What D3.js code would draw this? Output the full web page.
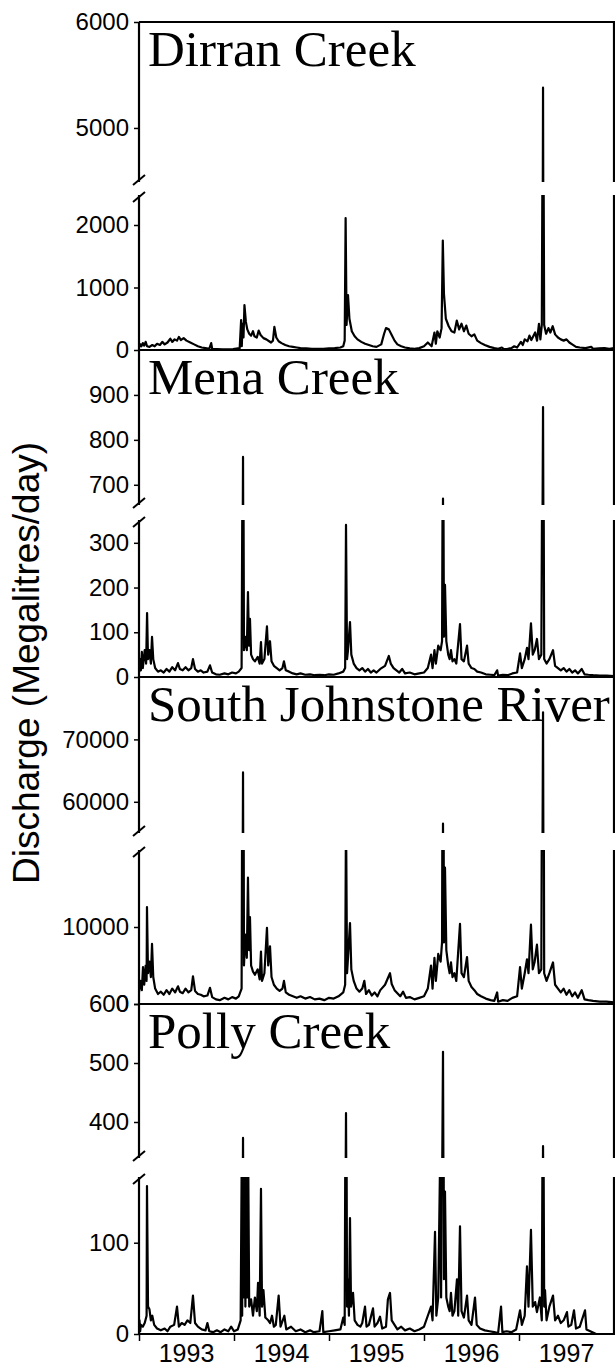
<!DOCTYPE html>
<html>
<head>
<meta charset="utf-8">
<script src="https://cdn.jsdelivr.net/npm/d3@7"></script>
<style>
  body { margin: 0; background: #fff; }
  text { fill: #000; }
</style>
</head>
<body>
<svg id="chart"></svg>
<script>
let W = 615, H = 1368

// ---- data: [decimal year, discharge ML/day] ----
const rivers = ['Dirran Creek', 'Mena Creek', 'South Johnstone River', 'Polly Creek']
const years = [1993, 1994, 1995, 1996, 1997]

const dirran = [
  [1993.000, 40],[1993.015, 90],[1993.025, 60],[1993.040, 110],[1993.055, 70],[1993.070, 130],[1993.085, 60],
  [1993.110, 50],[1993.140, 80],[1993.165, 60],[1993.190, 100],[1993.220, 80],[1993.245, 130],[1993.270, 90],
  [1993.300, 120],[1993.330, 180],[1993.350, 130],[1993.375, 170],[1993.400, 150],[1993.420, 210],[1993.440, 160],
  [1993.470, 190],[1993.500, 150],[1993.540, 120],[1993.580, 90],[1993.620, 60],[1993.660, 40],[1993.700, 30],
  [1993.740, 20],[1993.760, 110],[1993.770, 20],[1993.820, 15],[1993.880, 10],[1993.940, 10],[1993.990, 15],
  [1994.060, 30],[1994.075, 480],[1994.082, 60],[1994.090, 420],[1994.100, 200],[1994.110, 720],[1994.125, 450],
  [1994.140, 330],[1994.160, 260],[1994.180, 230],[1994.200, 300],[1994.215, 220],[1994.240, 200],[1994.260, 310],
  [1994.280, 240],[1994.310, 190],[1994.340, 170],[1994.370, 140],[1994.390, 120],[1994.410, 150],[1994.425, 370],
  [1994.445, 200],[1994.470, 140],[1994.500, 110],[1994.540, 80],[1994.580, 60],[1994.620, 50],[1994.660, 40],
  [1994.700, 30],[1994.760, 25],[1994.820, 20],[1994.880, 20],[1994.940, 20],[1995.000, 25],[1995.060, 30],
  [1995.120, 40],[1995.150, 60],[1995.165, 150],[1995.175, 2110],[1995.185, 400],[1995.200, 880],[1995.215, 500],
  [1995.240, 300],[1995.270, 220],[1995.300, 170],[1995.340, 130],[1995.380, 100],[1995.420, 80],[1995.460, 60],
  [1995.500, 50],[1995.550, 90],[1995.580, 260],[1995.600, 350],[1995.630, 330],[1995.660, 240],[1995.690, 150],
  [1995.720, 90],[1995.760, 60],[1995.800, 40],[1995.850, 25],[1995.900, 20],[1995.950, 30],[1996.000, 60],
  [1996.040, 120],[1996.080, 60],[1996.110, 280],[1996.125, 100],[1996.140, 300],[1996.165, 200],[1996.185, 350],
  [1996.198, 1750],[1996.210, 900],[1996.230, 500],[1996.260, 380],[1996.290, 300],[1996.320, 280],[1996.345, 470],
  [1996.370, 330],[1996.395, 420],[1996.420, 300],[1996.445, 390],[1996.470, 260],[1996.500, 220],[1996.530, 250],
  [1996.560, 150],[1996.600, 110],[1996.640, 80],[1996.690, 50],[1996.740, 30],[1996.780, 20],[1996.820, 40],
  [1996.840, 15],[1996.880, 20],[1996.920, 30],[1996.950, 60],[1996.980, 40],[1997.020, 130],[1997.040, 80],
  [1997.060, 170],[1997.090, 140],[1997.110, 230],[1997.130, 160],[1997.170, 280],[1997.190, 150],[1997.210, 420],
  [1997.225, 170],[1997.240, 400],[1997.253, 5380],[1997.265, 400],[1997.285, 260],[1997.310, 350],[1997.330, 280],
  [1997.355, 380],[1997.380, 250],[1997.410, 200],[1997.440, 170],[1997.470, 150],[1997.500, 170],[1997.530, 120],
  [1997.560, 90],[1997.600, 50],[1997.640, 40],[1997.700, 30],[1997.760, 50],[1997.780, 20],[1997.840, 25],
  [1997.900, 30],[1997.950, 20],[1998.000, 30]
]

const mena = [
  [1993.000, 10],[1993.010, 40],[1993.020, 15],[1993.030, 56],[1993.040, 20],[1993.060, 60],[1993.075, 30],
  [1993.085, 143],[1993.095, 40],[1993.110, 60],[1993.125, 30],[1993.137, 90],[1993.150, 40],[1993.170, 20],
  [1993.200, 12],[1993.230, 15],[1993.260, 10],[1993.290, 18],[1993.320, 12],[1993.350, 22],[1993.380, 15],
  [1993.410, 31],[1993.430, 18],[1993.460, 15],[1993.490, 22],[1993.520, 15],[1993.550, 20],[1993.568, 40],
  [1993.590, 18],[1993.620, 12],[1993.650, 15],[1993.680, 10],[1993.720, 12],[1993.747, 26],[1993.770, 10],
  [1993.810, 6],[1993.850, 5],[1993.900, 8],[1993.940, 6],[1993.980, 10],[1994.020, 8],[1994.050, 12],
  [1994.080, 20],[1994.095, 762],[1994.105, 60],[1994.120, 90],[1994.135, 60],[1994.147, 190],[1994.158, 70],
  [1994.168, 130],[1994.180, 50],[1994.200, 40],[1994.220, 35],[1994.250, 45],[1994.270, 30],[1994.284, 78],
  [1994.295, 30],[1994.320, 40],[1994.347, 113],[1994.360, 50],[1994.379, 80],[1994.395, 35],[1994.420, 25],
  [1994.450, 20],[1994.480, 15],[1994.510, 20],[1994.526, 35],[1994.545, 15],[1994.580, 12],[1994.620, 8],
  [1994.660, 6],[1994.700, 8],[1994.750, 5],[1994.800, 6],[1994.850, 4],[1994.900, 5],[1994.950, 4],
  [1995.000, 6],[1995.050, 5],[1995.100, 8],[1995.150, 12],[1995.170, 20],[1995.179, 340],[1995.190, 40],
  [1995.200, 60],[1995.221, 123],[1995.235, 50],[1995.260, 30],[1995.290, 20],[1995.320, 15],[1995.350, 20],
  [1995.380, 12],[1995.410, 18],[1995.440, 10],[1995.470, 15],[1995.500, 10],[1995.540, 18],[1995.590, 25],
  [1995.630, 47],[1995.650, 30],[1995.680, 20],[1995.710, 15],[1995.740, 10],[1995.770, 18],[1995.800, 8],
  [1995.850, 10],[1995.900, 6],[1995.950, 8],[1996.000, 10],[1996.040, 20],[1996.074, 50],[1996.090, 20],
  [1996.110, 60],[1996.125, 30],[1996.150, 70],[1996.175, 60],[1996.190, 80],[1996.200, 669],[1996.210, 90],
  [1996.221, 206],[1996.235, 80],[1996.255, 50],[1996.270, 40],[1996.284, 60],[1996.300, 35],[1996.320, 40],
  [1996.340, 30],[1996.379, 118],[1996.395, 40],[1996.420, 35],[1996.453, 70],[1996.470, 30],[1996.500, 20],
  [1996.530, 18],[1996.560, 12],[1996.600, 10],[1996.650, 6],[1996.700, 5],[1996.740, 4],[1996.770, 15],
  [1996.780, 3],[1996.830, 5],[1996.880, 4],[1996.930, 8],[1996.980, 10],[1997.011, 53],[1997.030, 20],
  [1997.060, 40],[1997.084, 65],[1997.100, 40],[1997.126, 120],[1997.145, 50],[1997.165, 60],[1997.189, 85],
  [1997.210, 40],[1997.235, 50],[1997.253, 873],[1997.265, 40],[1997.290, 30],[1997.320, 40],[1997.358, 60],
  [1997.380, 25],[1997.410, 20],[1997.440, 15],[1997.470, 20],[1997.500, 12],[1997.530, 18],[1997.560, 10],
  [1997.590, 15],[1997.620, 8],[1997.660, 18],[1997.690, 6],[1997.730, 5],[1997.780, 4],[1997.850, 3],
  [1997.920, 3],[1998.000, 2]
]

const johnstone = [
  [1993.000, 1500],[1993.015, 3000],[1993.030, 1800],[1993.042, 4800],[1993.055, 2500],[1993.070, 5000],
  [1993.080, 3000],[1993.084, 12600],[1993.095, 4000],[1993.110, 5500],[1993.125, 3500],[1993.137, 7800],
  [1993.150, 3500],[1993.170, 2000],[1993.200, 1300],[1993.230, 1600],[1993.260, 1200],[1993.290, 1800],
  [1993.320, 1300],[1993.350, 2000],[1993.380, 1500],[1993.411, 2300],[1993.430, 1600],[1993.460, 1400],
  [1993.490, 2000],[1993.520, 1500],[1993.550, 1800],[1993.568, 3600],[1993.590, 1700],[1993.620, 1300],
  [1993.650, 1200],[1993.680, 1000],[1993.720, 1100],[1993.747, 2100],[1993.770, 900],[1993.810, 600],
  [1993.850, 500],[1993.900, 800],[1993.940, 600],[1993.980, 900],[1994.020, 700],[1994.050, 1000],
  [1994.080, 2000],[1994.095, 64700],[1994.105, 5000],[1994.120, 9000],[1994.135, 6000],[1994.147, 16400],
  [1994.158, 7000],[1994.168, 11300],[1994.180, 5000],[1994.200, 4200],[1994.220, 3800],[1994.250, 4500],
  [1994.270, 3200],[1994.284, 6800],[1994.295, 3000],[1994.320, 4000],[1994.347, 9900],[1994.360, 5000],
  [1994.379, 7500],[1994.395, 3500],[1994.420, 2500],[1994.450, 2000],[1994.480, 1700],[1994.510, 2000],
  [1994.526, 3000],[1994.545, 1500],[1994.580, 1200],[1994.620, 1000],[1994.660, 800],[1994.700, 1000],
  [1994.750, 700],[1994.800, 900],[1994.850, 600],[1994.900, 700],[1994.950, 500],[1995.000, 800],
  [1995.050, 700],[1995.100, 1000],[1995.150, 1500],[1995.170, 2500],[1995.179, 25000],[1995.190, 4000],
  [1995.200, 6000],[1995.221, 10500],[1995.235, 4500],[1995.260, 3000],[1995.290, 2000],[1995.320, 1600],
  [1995.350, 2000],[1995.372, 3000],[1995.390, 1300],[1995.420, 1800],[1995.450, 1100],[1995.480, 1500],
  [1995.510, 1000],[1995.540, 1800],[1995.590, 2500],[1995.642, 4000],[1995.660, 2600],[1995.690, 1800],
  [1995.720, 1400],[1995.750, 1000],[1995.780, 1600],[1995.810, 800],[1995.850, 900],[1995.900, 600],
  [1995.950, 800],[1996.000, 1000],[1996.040, 2000],[1996.074, 5000],[1996.090, 2000],[1996.110, 6000],
  [1996.125, 3000],[1996.150, 6500],[1996.175, 5500],[1996.190, 8000],[1996.200, 56500],[1996.210, 8000],
  [1996.221, 17700],[1996.235, 7000],[1996.255, 5000],[1996.270, 4000],[1996.284, 5400],[1996.300, 3500],
  [1996.320, 4000],[1996.340, 3000],[1996.379, 10400],[1996.395, 4000],[1996.420, 3500],[1996.453, 6100],
  [1996.470, 3000],[1996.500, 2200],[1996.530, 1800],[1996.560, 1300],[1996.600, 1000],[1996.650, 700],
  [1996.700, 500],[1996.740, 400],[1996.770, 1500],[1996.780, 300],[1996.830, 500],[1996.880, 400],
  [1996.930, 800],[1996.980, 1000],[1997.011, 4800],[1997.030, 2000],[1997.060, 4000],[1997.084, 5800],
  [1997.100, 4000],[1997.126, 10300],[1997.145, 4500],[1997.165, 5500],[1997.189, 7700],[1997.210, 4000],
  [1997.235, 4500],[1997.253, 74350],[1997.265, 4000],[1997.290, 3000],[1997.320, 4000],[1997.358, 5400],
  [1997.380, 2500],[1997.410, 2000],[1997.440, 1500],[1997.470, 2000],[1997.500, 1200],[1997.530, 1800],
  [1997.560, 1000],[1997.590, 1500],[1997.620, 800],[1997.660, 1800],[1997.690, 600],[1997.730, 500],
  [1997.780, 400],[1997.850, 300],[1997.920, 300],[1998.000, 200]
]

const polly = [
  [1993.000, 5],[1993.005, 15],[1993.012, 3],[1993.020, 10],[1993.040, 8],[1993.060, 12],[1993.080, 20],
  [1993.084, 162],[1993.095, 30],[1993.110, 27],[1993.125, 15],[1993.140, 20],[1993.160, 10],[1993.190, 6],
  [1993.230, 4],[1993.270, 6],[1993.300, 3],[1993.330, 8],[1993.370, 10],[1993.400, 30],[1993.420, 8],
  [1993.450, 12],[1993.480, 10],[1993.510, 15],[1993.540, 12],[1993.568, 42],[1993.590, 12],[1993.620, 8],
  [1993.660, 5],[1993.700, 4],[1993.720, 12],[1993.740, 3],[1993.780, 2],[1993.820, 4],[1993.860, 2],
  [1993.900, 5],[1993.940, 3],[1993.970, 8],[1994.000, 3],[1994.040, 5],[1994.070, 15],[1994.080, 172],
  [1994.086, 20],[1994.095, 373],[1994.102, 40],[1994.110, 190],[1994.120, 30],[1994.130, 172],[1994.140, 40],
  [1994.150, 185],[1994.160, 30],[1994.180, 38],[1994.200, 20],[1994.220, 40],[1994.240, 25],[1994.253, 56],
  [1994.270, 20],[1994.284, 159],[1994.295, 30],[1994.310, 48],[1994.330, 18],[1994.360, 15],[1994.380, 12],
  [1994.400, 20],[1994.420, 8],[1994.440, 10],[1994.470, 42],[1994.490, 8],[1994.530, 20],[1994.550, 5],
  [1994.600, 8],[1994.650, 3],[1994.700, 5],[1994.750, 2],[1994.800, 4],[1994.840, 2],[1994.900, 3],
  [1994.930, 25],[1994.940, 2],[1995.000, 3],[1995.060, 4],[1995.120, 5],[1995.150, 18],[1995.165, 10],
  [1995.179, 415],[1995.190, 30],[1995.200, 60],[1995.210, 20],[1995.221, 127],[1995.232, 30],[1995.253, 45],
  [1995.270, 15],[1995.300, 10],[1995.330, 8],[1995.350, 12],[1995.379, 30],[1995.395, 8],[1995.420, 10],
  [1995.463, 28],[1995.480, 8],[1995.510, 12],[1995.537, 19],[1995.560, 6],[1995.600, 8],[1995.620, 38],
  [1995.642, 45],[1995.660, 15],[1995.690, 10],[1995.720, 5],[1995.760, 8],[1995.800, 4],[1995.850, 6],
  [1995.900, 3],[1995.950, 5],[1996.000, 8],[1996.040, 20],[1996.074, 30],[1996.090, 15],[1996.116, 112],
  [1996.130, 20],[1996.150, 40],[1996.168, 180],[1996.180, 40],[1996.200, 519],[1996.210, 60],[1996.221, 156],
  [1996.235, 40],[1996.255, 30],[1996.270, 25],[1996.284, 45],[1996.300, 20],[1996.320, 25],[1996.347, 60],
  [1996.360, 20],[1996.379, 118],[1996.395, 25],[1996.420, 18],[1996.453, 42],[1996.470, 15],[1996.500, 10],
  [1996.537, 40],[1996.555, 10],[1996.590, 6],[1996.640, 4],[1996.690, 3],[1996.740, 2],[1996.780, 1],
  [1996.811, 30],[1996.825, 2],[1996.870, 3],[1996.920, 2],[1996.970, 5],[1997.011, 26],[1997.030, 10],
  [1997.060, 20],[1997.084, 74],[1997.100, 30],[1997.126, 114],[1997.145, 30],[1997.170, 35],[1997.189, 24],
  [1997.220, 40],[1997.240, 15],[1997.253, 359],[1997.265, 30],[1997.274, 48],[1997.290, 15],[1997.320, 30],
  [1997.358, 42],[1997.380, 15],[1997.410, 20],[1997.440, 12],[1997.470, 15],[1997.505, 24],[1997.520, 8],
  [1997.550, 10],[1997.579, 26],[1997.600, 6],[1997.640, 8],[1997.695, 26],[1997.710, 5],[1997.750, 3],
  [1997.790, 1],[1997.811, 0],[1997.900, 0],[1998.000, 0]
]

const series = [dirran, mena, johnstone, polly]

// broken y axes: upper and lower value ranges, and their tick labels
const upperDomains = [[4490, 6000], [655, 1000], [55000, 80000], [339, 600]]
const lowerDomains = [[0, 2480], [0, 351], [0, 20000], [0, 172]]
const upperTicks = [[5000, 6000], [700, 800, 900], [60000, 70000], [400, 500, 600]]
const lowerTicks = [[0, 1000, 2000], [0, 100, 200, 300], [0, 10000], [0, 100]]

// pixel layout of each panel (top, bottom, end of upper part, start of lower part)
let panels = [
  {top: 22, bottom: 350, upBot: 182, lowTop: 195},
  {top: 350, bottom: 677, upBot: 505, lowTop: 520},
  {top: 677, bottom: 1004, upBot: 833, lowTop: 850},
  {top: 1004, bottom: 1334, upBot: 1158, lowTop: 1177}
]
let left = 139, right = 614

let svg = d3.select('#chart').attr('width', W).attr('height', H)
svg.append('rect').attr('width', W).attr('height', H).attr('fill', '#fff')

let x = d3.scaleLinear().domain([1993, 1998]).range([left, right])

let defs = svg.append('defs')

panels.forEach((p, i) => {
  let yUp = d3.scaleLinear().domain(upperDomains[i]).range([p.upBot, p.top])
  let yLow = d3.scaleLinear().domain(lowerDomains[i]).range([p.bottom, p.lowTop])

  defs.append('clipPath').attr('id', `up${i}`)
    .append('rect').attr('x', left).attr('y', p.top).attr('width', right - left).attr('height', p.upBot - p.top)
  defs.append('clipPath').attr('id', `low${i}`)
    .append('rect').attr('x', left).attr('y', p.lowTop).attr('width', right - left).attr('height', p.bottom - p.lowTop + 1)

  let g = svg.append('g')

  let lineUp = d3.line().x(d => x(d[0])).y(d => yUp(d[1]))
  let lineLow = d3.line().x(d => x(d[0])).y(d => yLow(d[1]))

  g.append('path').datum(series[i]).attr('d', lineLow)
    .attr('clip-path', `url(#low${i})`)
    .attr('fill', 'none').attr('stroke', '#000').attr('stroke-width', 2.2).attr('stroke-linejoin', 'round')
  g.append('path').datum(series[i]).attr('d', lineUp)
    .attr('clip-path', `url(#up${i})`)
    .attr('fill', 'none').attr('stroke', '#000').attr('stroke-width', 2.2).attr('stroke-linejoin', 'round')

  // river name
  g.append('text').attr('x', 148).attr('y', p.top + 44)
    .attr('font-family', '"Liberation Serif", "Times New Roman", serif')
    .attr('font-size', 51).text(rivers[i])

  // y axes (ticks + labels only, axis line drawn with the break below)
  let axUp = g.append('g').attr('transform', `translate(${left},0)`)
    .call(d3.axisLeft(yUp).tickValues(upperTicks[i]).tickSize(5).tickPadding(5).tickFormat(d3.format('d')))
  let axLow = g.append('g').attr('transform', `translate(${left},0)`)
    .call(d3.axisLeft(yLow).tickValues(lowerTicks[i]).tickSize(5).tickPadding(5).tickFormat(d3.format('d')))
  ;[axUp, axLow].forEach(a => {
    a.select('.domain').remove()
    a.selectAll('line').attr('stroke-width', 1.5)
    a.selectAll('text').attr('font-family', '"Liberation Sans", Arial, sans-serif').attr('font-size', 24)
  })

  // frame with gap at the break
  let frame = [[left, p.top, left, p.upBot], [left, p.lowTop, left, p.bottom],
               [right, p.top, right, p.upBot], [right, p.lowTop, right, p.bottom],
               [left, p.bottom, W, p.bottom]]
  if (i === 0) frame.push([left, p.top, W, p.top])
  frame.forEach(f => {
    g.append('line').attr('x1', f[0]).attr('y1', f[1]).attr('x2', f[2]).attr('y2', f[3])
      .attr('stroke', '#000').attr('stroke-width', 2.2)
  })
  // break marks
  ;[p.upBot - 2, p.lowTop + 2].forEach(yb => {
    g.append('line').attr('x1', left - 6).attr('y1', yb + 5).attr('x2', left + 6).attr('y2', yb - 5)
      .attr('stroke', '#000').attr('stroke-width', 2)
  })
})

// x axis along the bottom panel
let bottom = panels[panels.length - 1].bottom
let xAxis = svg.append('g').attr('transform', `translate(0,${bottom})`)
  .call(d3.axisBottom(x).tickValues([1993, 1994, 1995, 1996, 1997]).tickSize(7).tickFormat(''))
xAxis.select('.domain').remove()
xAxis.selectAll('line').attr('stroke-width', 1.5)

svg.append('g').selectAll('text').data(years).enter().append('text')
  .attr('x', d => x(d + 0.5)).attr('y', 1362)
  .attr('text-anchor', 'middle')
  .attr('font-family', '"Liberation Sans", Arial, sans-serif').attr('font-size', 25)
  .text(d => d)

// y axis title
svg.append('text')
  .attr('transform', 'translate(39,663) rotate(-90)')
  .attr('text-anchor', 'middle')
  .attr('font-family', '"Liberation Sans", Arial, sans-serif').attr('font-size', 37)
  .text('Discharge (Megalitres/day)')
</script>
</body>
</html>
